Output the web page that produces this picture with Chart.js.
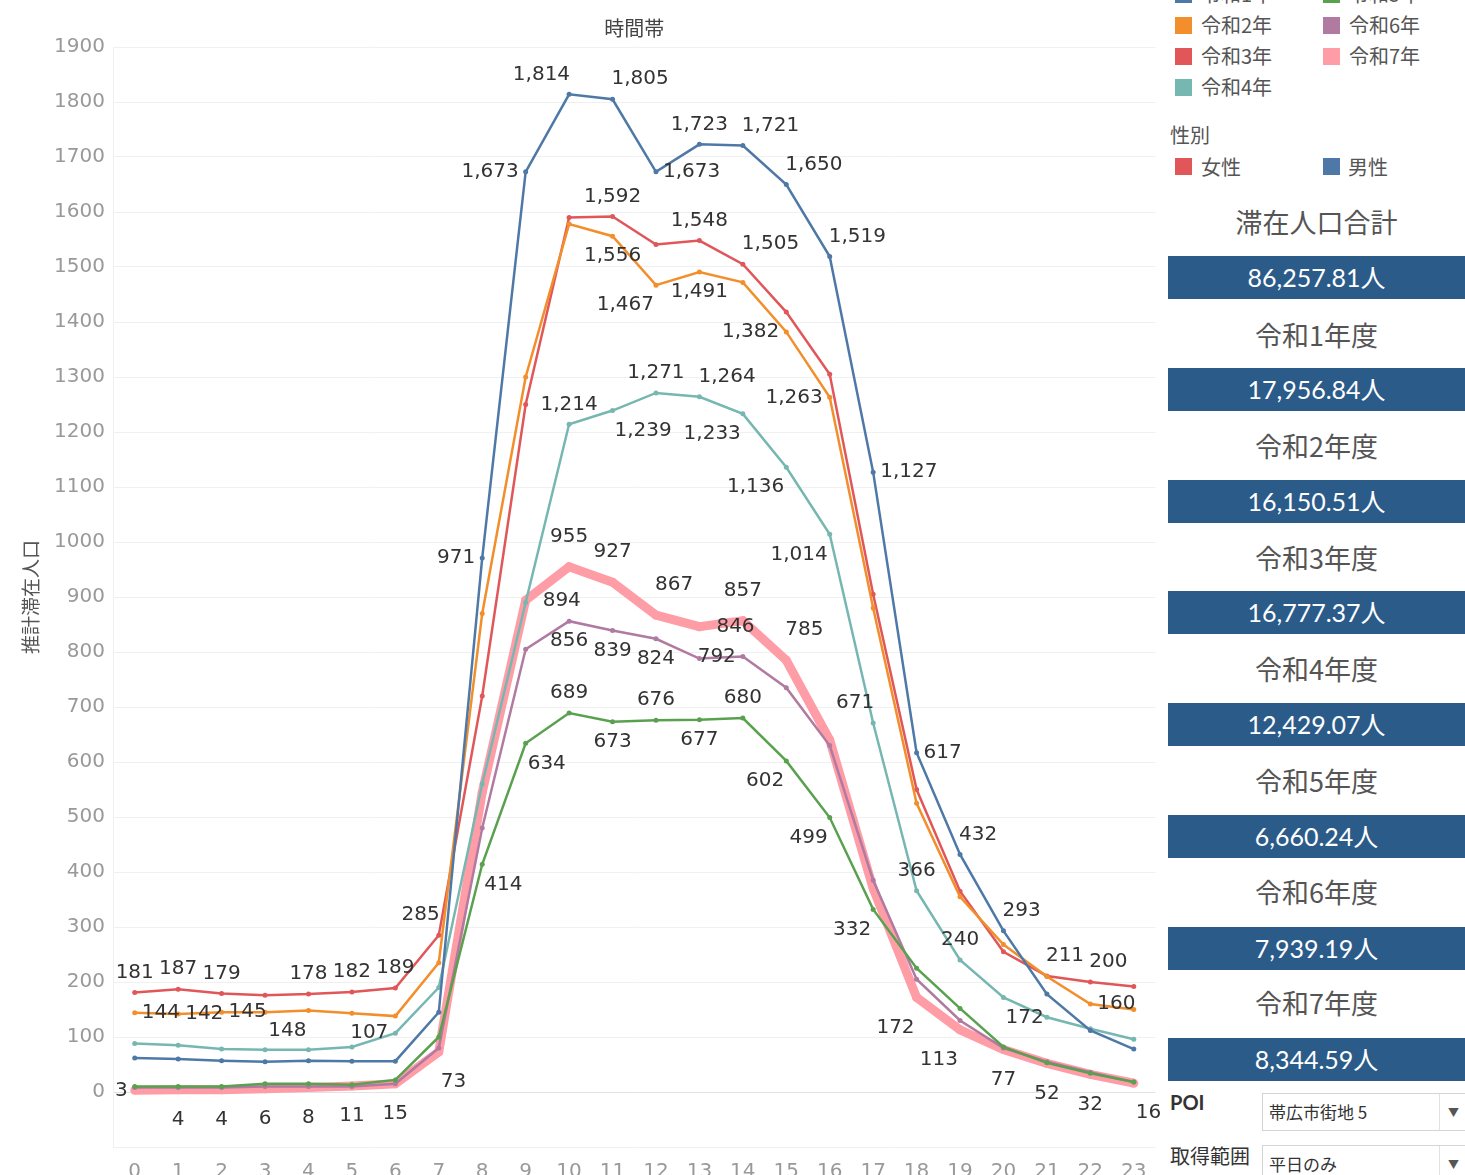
<!DOCTYPE html>
<html>
<head>
<meta charset="utf-8">
<script src="https://cdn.jsdelivr.net/npm/chart.js@4.4.0/dist/chart.umd.min.js"></script>
<style>
  body { margin: 0; background: #fff; width: 1465px; height: 1175px; overflow: hidden; position: relative; font-family: "Noto Sans CJK JP", sans-serif; }
  #wrap { position: absolute; left: 0; top: 0; width: 1160px; height: 1175px; }
  #side { position: absolute; left: 1160px; top: 0; width: 305px; height: 1175px; overflow: hidden; }
  .abs { position: absolute; white-space: nowrap; }
  .sw { position: absolute; width: 17px; height: 17px; }
  .lg { position: absolute; font-size: 20px; color: #555; line-height: 20px; }
  .bar { position: absolute; left: 8px; width: 297px; height: 43px; background: #2b5b89; color: #fff; font-size: 25px; text-align: center; line-height: 43px; font-family: Lato, "Noto Sans CJK JP", sans-serif; }
  .yr { position: absolute; left: 8px; width: 297px; text-align: center; font-size: 27px; color: #555; line-height: 30px; }
  .box { position: absolute; left: 102px; width: 203px; border: 1px solid #d4d4d4; background: #fff; font-size: 17px; color: #333; }
  .arr { position: absolute; left: 176px; top: 0; width: 27px; height: 100%; border-left: 1px solid #e2e2e2; text-align: center; font-size: 11px; color: #555; }
</style>
</head>
<body>
<div id="wrap"><canvas id="lineChart" width="1160" height="1175"></canvas></div>
<div id="side"></div>
<script>
// time axis (hours)
const hours = ['0','1','2','3','4','5','6','7','8','9','10','11','12','13','14','15','16','17','18','19','20','21','22','23'];

// estimated population per hour, one array per fiscal year
const reiwa1 = [62, 60, 57, 55, 57, 56, 56, 145, 971, 1673, 1814, 1805, 1673, 1723, 1721, 1650, 1519, 1127, 617, 432, 293, 178, 112, 78];
const reiwa2 = [144, 142, 145, 145, 148, 143, 138, 235, 870, 1300, 1578, 1556, 1467, 1491, 1472, 1382, 1263, 880, 525, 355, 268, 210, 160, 150];
const reiwa3 = [181, 187, 179, 176, 178, 182, 189, 285, 720, 1250, 1590, 1592, 1541, 1548, 1505, 1418, 1305, 905, 550, 365, 255, 211, 200, 192];
const reiwa4 = [88, 85, 78, 77, 77, 82, 107, 190, 560, 890, 1214, 1239, 1271, 1264, 1233, 1136, 1014, 671, 366, 240, 172, 136, 115, 96];
const reiwa5 = [10, 10, 10, 15, 15, 13, 22, 100, 414, 634, 689, 673, 676, 677, 680, 602, 499, 332, 225, 152, 82, 53, 34, 18];
const reiwa6 = [8, 8, 8, 10, 10, 10, 15, 80, 480, 805, 856, 839, 824, 788, 792, 735, 630, 385, 205, 130, 80, 55, 36, 18];
const reiwa7 = [3, 4, 4, 6, 8, 11, 15, 73, 545, 894, 955, 927, 867, 846, 857, 785, 640, 370, 172, 113, 77, 52, 32, 16];

const seriesNames = ['令和1年', '令和2年', '令和3年', '令和4年', '令和5年', '令和6年', '令和7年'];
const seriesValues = [reiwa1, reiwa2, reiwa3, reiwa4, reiwa5, reiwa6, reiwa7];
const seriesColors = ['#4e79a7', '#f28e2b', '#e15759', '#76b7b2', '#59a14f', '#b07aa1', '#ff9da7'];

// side panel totals
const totalLabel = '86,257.81人';
const yearLabels = ['令和1年度', '令和2年度', '令和3年度', '令和4年度', '令和5年度', '令和6年度', '令和7年度'];
const yearTotals = ['17,956.84人', '16,150.51人', '16,777.37人', '12,429.07人', '6,660.24人', '7,939.19人', '8,344.59人'];

// which points get a value label: [series, hour, side]
const labelSpots = [
    [0,8,'w'],[0,9,'w'],[0,10,'nw'],[0,11,'ne'],[0,12,'e'],[0,13,'n'],[0,14,'ne'],[0,15,'ne'],[0,16,'ne'],[0,17,'e'],[0,18,'e'],[0,19,'ne'],[0,20,'ne'],
    [1,0,'e'],[1,1,'e'],[1,2,'e'],[1,4,'sw'],[1,11,'s'],[1,12,'sw'],[1,13,'s'],[1,15,'w'],[1,16,'w'],[1,22,'e'],
    [2,0,'n'],[2,1,'n'],[2,2,'n'],[2,4,'n'],[2,5,'n'],[2,6,'n'],[2,7,'nw'],[2,11,'n'],[2,13,'n'],[2,14,'ne'],[2,21,'ne'],[2,22,'ne'],
    [3,6,'w'],[3,10,'n'],[3,11,'se'],[3,12,'n'],[3,13,'ne'],[3,14,'sw'],[3,15,'sw'],[3,16,'sw'],[3,17,'nw'],[3,18,'n'],[3,19,'n'],[3,20,'se'],
    [4,8,'se'],[4,9,'se'],[4,10,'n'],[4,11,'s'],[4,12,'n'],[4,13,'s'],[4,14,'n'],[4,15,'sw'],[4,16,'sw'],[4,17,'sw'],
    [5,10,'s'],[5,11,'s'],[5,12,'s'],[5,14,'w'],
    [6,0,'w'],[6,1,'s'],[6,2,'s'],[6,3,'s'],[6,4,'s'],[6,5,'s'],[6,6,'s'],[6,7,'se'],[6,9,'e'],[6,10,'n'],[6,11,'n'],[6,12,'ne'],[6,13,'e'],[6,14,'n'],[6,15,'ne'],
    [6,18,'sw'],[6,19,'sw'],[6,20,'s'],[6,21,'s'],[6,22,'s'],[6,23,'se']
];

const pointLabels = {
    id: 'pointLabels',
    afterDatasetsDraw(chart) {
        const ctx = chart.ctx;
        ctx.save();
        ctx.font = '20px "DejaVu Sans"';
        ctx.fillStyle = '#333';
        ctx.textBaseline = 'middle';
        labelSpots.forEach(([s, h, side]) => {
            const pt = chart.getDatasetMeta(s).data[h];
            const txt = seriesValues[s][h].toLocaleString('en-US');
            const far = s === 6 ? 10 : 0; // thick line needs more room
            let x = pt.x, y = pt.y, align = 'center';
            if (side === 'n') { y -= 20 + far; }
            else if (side === 's') { y += 20 + far; }
            else if (side === 'e') { x += 7 + far; align = 'left'; }
            else if (side === 'w') { x -= 7; align = 'right'; }
            else if (side === 'ne') { x -= 1; y -= 20 + far; align = 'left'; }
            else if (side === 'nw') { x += 1; y -= 20 + far; align = 'right'; }
            else if (side === 'se') { x += 2; y += 20 + far; align = 'left'; }
            else if (side === 'sw') { x -= 2; y += 20 + far; align = 'right'; }
            ctx.textAlign = align;
            ctx.fillText(txt, x, y);
        });
        ctx.restore();
    }
};

const datasets = seriesValues.map((vals, i) => ({
    label: seriesNames[i],
    data: vals,
    borderColor: seriesColors[i],
    backgroundColor: seriesColors[i],
    borderWidth: i === 6 ? 9 : 2.5,
    pointRadius: i === 6 ? 4.5 : 2.5,
    pointBorderWidth: 0,
    tension: 0,
    order: i === 6 ? 10 : i
}));

new Chart(document.getElementById('lineChart').getContext('2d'), {
    type: 'line',
    data: { labels: hours, datasets: datasets },
    options: {
        responsive: false,
        animation: false,
        layout: { padding: { left: 0, right: 1, top: 0, bottom: 0 } },
        plugins: {
            legend: { display: false },
            tooltip: { enabled: false },
            title: {
                display: true,
                text: '時間帯',
                fullSize: false,
                color: '#444',
                font: { family: 'Noto Sans CJK JP', size: 20, weight: 'normal' },
                padding: { top: 16, bottom: 7 }
            }
        },
        scales: {
            x: {
                type: 'category',
                offset: true,
                grid: { display: false },
                border: { display: false },
                ticks: { color: '#999', font: { family: 'DejaVu Sans', size: 20 }, padding: 5, maxRotation: 0, autoSkip: false },
                afterFit(scale) { scale.height = 28; }
            },
            y: {
                min: -100,
                max: 1900,
                ticks: {
                    stepSize: 100,
                    color: '#999',
                    font: { family: 'DejaVu Sans', size: 20 },
                    padding: 8,
                    callback: v => v < 0 ? '' : v
                },
                grid: {
                    drawTicks: false,
                    color: c => c.tick && c.tick.value === 0 ? '#e2e2e2' : '#f0f0f0'
                },
                border: { display: true, color: '#f0f0f0' },
                title: {
                    display: true,
                    text: '推計滞在人口',
                    color: '#555',
                    font: { family: 'Noto Sans CJK JP', size: 19 },
                    padding: { top: 19, bottom: 0 }
                },
                afterFit(scale) { scale.width = 113; }
            }
        }
    },
    plugins: [pointLabels]
});

// side panel: legends, totals, filters
const side = document.getElementById('side');
function add(html) { side.insertAdjacentHTML('beforeend', html); }

seriesNames.forEach((name, i) => {
    const col = i < 4 ? 0 : 1;
    const row = i < 4 ? i : i - 4;
    const cy = -6 + row * 31;
    const left = col === 0 ? 15 : 163;
    add(`<div class="sw" style="left:${left}px;top:${cy - 8}px;background:${seriesColors[i]}"></div>`);
    add(`<div class="lg" style="left:${left + 26}px;top:${cy - 10}px">${name}</div>`);
});
add(`<div class="lg" style="left:10px;top:125px">性別</div>`);
add(`<div class="sw" style="left:15px;top:158px;background:${seriesColors[2]}"></div>`);
add(`<div class="lg" style="left:41px;top:157px">女性</div>`);
add(`<div class="sw" style="left:163px;top:158px;background:${seriesColors[0]}"></div>`);
add(`<div class="lg" style="left:188px;top:157px">男性</div>`);

add(`<div class="yr" style="top:207px">滞在人口合計</div>`);
add(`<div class="bar" style="top:256px">${totalLabel}</div>`);
yearLabels.forEach((lab, i) => {
    add(`<div class="yr" style="top:${Math.round(320 + i * 111.4)}px">${lab}</div>`);
    add(`<div class="bar" style="top:${Math.round(368 + i * 111.7)}px">${yearTotals[i]}</div>`);
});

add(`<div class="abs" style="left:10px;top:1090px;font-size:20px;color:#333;font-weight:bold;font-family:Lato,sans-serif">POI</div>`);
add(`<div class="box" style="top:1093px;height:36px;line-height:36px"><span style="margin-left:6px">帯広市街地 5</span><span class="arr">▼</span></div>`);
add(`<div class="abs" style="left:10px;top:1141px;font-size:20px;color:#333">取得範囲</div>`);
add(`<div class="box" style="top:1145px;height:36px;line-height:36px"><span style="margin-left:6px">平日のみ</span><span class="arr">▼</span></div>`);
</script>
</body>
</html>
